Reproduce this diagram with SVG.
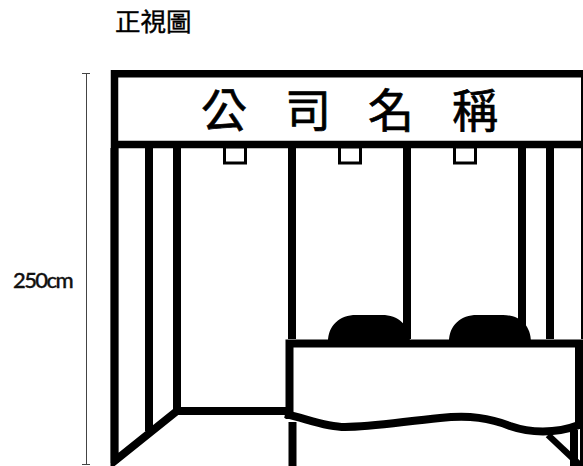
<svg xmlns="http://www.w3.org/2000/svg" width="583" height="466" viewBox="0 0 583 466">
<style>
.k{fill:none;stroke:#000;stroke-width:8}
.b{fill:#fff;stroke:#000;stroke-width:3}
.n{font-family:"Noto Sans CJK TC","Noto Sans CJK SC",sans-serif;fill:#000;stroke:#000}
.h{font-size:46px;font-weight:400;text-anchor:middle;stroke-width:0.700}
.d{fill:none;stroke:#444;stroke-width:1}
</style>
<rect width="583" height="466" fill="#fff"/>
<g id="title"><text class="n" x="115" y="30.500" font-size="25.500" font-weight="400" stroke-width="0.400">正視圖</text></g>
<g id="dimension">
<path class="d" d="M86.500 73.500V464M82 73.500H90M82 464.500H90"/>
<text x="13" y="288" font-family="Lato,'Open Sans',sans-serif" font-size="22" font-weight="500" letter-spacing="-1.600" fill="#111" stroke="#111" stroke-width="0.350">250cm</text>
</g>
<g id="booth-frame">
<path class="k" d="M149 148V431M177 148V411M292 148V339M407 148V339M522 148V339M550 148V339"/>
<path class="k" d="M114.500 148V461L177 411H288"/>
<path class="k" style="stroke-width:7.500" d="M114.500 463V73.800H590M114 144.500H590"/>
<path class="k" style="stroke-width:4" d="M583 73V339"/>
<rect class="b" x="224.500" y="147" width="21" height="16"/>
<rect class="b" x="339.500" y="147" width="21" height="16"/>
<rect class="b" x="454.500" y="147" width="21" height="16"/>
</g>
<g id="sign">
<text class="n h" x="224" y="127">公</text>
<text class="n h" x="308" y="127">司</text>
<text class="n h" x="391" y="127">名</text>
<text class="n h" x="475" y="127">稱</text>
</g>
<g id="counter">
<path d="M328 342C328 325 340 315 356 315H382C398 315 410 325 410 342ZM449 342C449 325 461 315 477 315H503C519 315 531 325 531 342Z" fill="#000"/>
<path d="M289.500 343.500H579V425C555 434 530 433 510 426C490 418 470 415 440 418C400 422 370 427 345 427C325 427 305 420 289.500 415Z" fill="#fff"/>
<path class="k" d="M289.500 419V343.500H579V428"/>
<path class="k" d="M285 414C305 418 325 427 345 427C370 427 400 422 440 418C470 415 490 418 510 426C530 433 555 434 579 425"/>
<path class="k" d="M292.500 422V466M574 430V466"/>
<path d="M581.500 425V466" fill="none" stroke="#000" stroke-width="3"/>
<path d="M548 435L581 466" fill="none" stroke="#000" stroke-width="6.500"/>
</g>
</svg>
